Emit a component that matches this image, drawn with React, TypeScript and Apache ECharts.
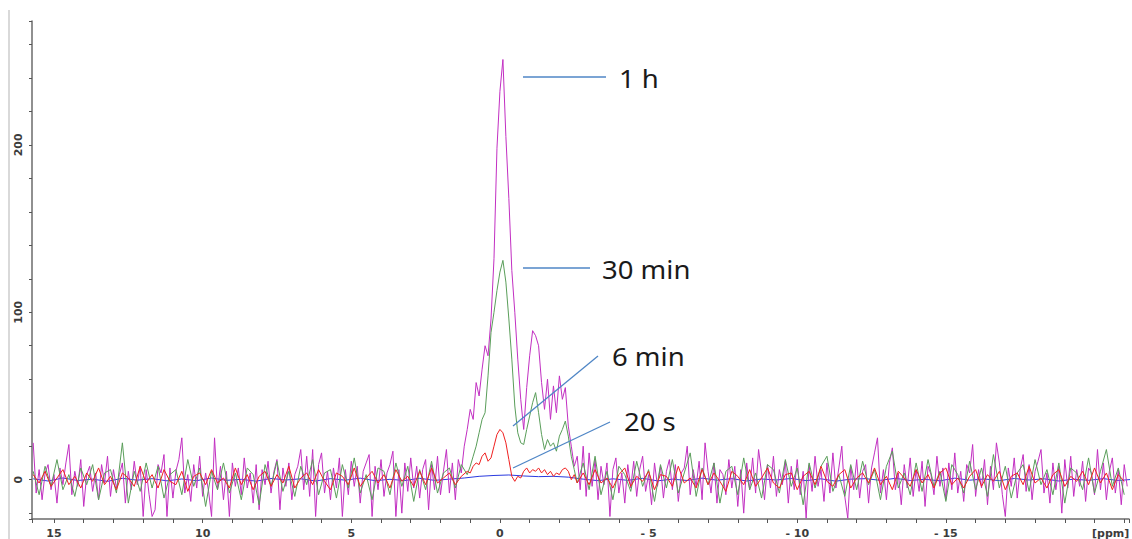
import React, { useEffect, useRef } from "react";
import * as echarts from "echarts";

// Axis ranges (ppm, intensity)
const X_MAX = 15.74;
const X_MIN = -21.16;
const Y_MIN = -23.5;
const Y_MAX = 274;

const xLabelValues = [15, 10, 5, 0, -5, -10, -15];
const yLabelValues = [0, 100, 200];

// ---- 1 h (magenta): 15.7 -> 1.2 ppm, step 0.1
const magentaLeft = [
  22, -8, 6, -12, 4, 9, -6, 3, -14, 7,
  -3, 10, 21, -9, 5, -4, 12, -16, 3, 8,
  -7, 4, -12, 9, -2, 14, -10, 6, -5, 3,
  10, -14, 5, -6, 11, -3, 8, -22, 6, -9,
  -22, -18, 9, 4, 15, -22, 7, -11, 5, 12,
  25, -8, 3, -13, 9, -5, 14, -10, 4, -7,
  -22, 25, -6, 8, -12, 5, -22, 10, -4, 7,
  -9, 13, -5, 4, -14, 9, -18, 6, -3, 11,
  -8, 5, 12, -18, 7, -4, 10, -12, 3, 8,
  18, -6, 14, -10, 18, -22, 9, 16, -8, 5,
  -12, 7, -5, 13, -22, 6, -9, 11, -4, 8,
  -14, 5, 10, 15, -22, 8, -6, 12, -10, 4,
  9, 17, -22, 6, -20, 10, -7, 13, -5, 8,
  -11, 6, 12, -18, 9, -6, 14, -9, 5, 18,
  -8, 10, -12, 12, 4, 20,
];
// 1.1 -> -2.5 ppm, step 0.1
const magentaPeak = [
  30, 42, 36, 58, 50, 66, 80, 74, 96, 132,
  198, 232, 251, 205, 168, 125, 100, 72, 48, 30,
  55, 74, 89, 86, 80, 58, 42, 60, 36, 56,
  40, 62, 48, 55, 32, 20, 8,
];
// -2.6 -> -21.1 ppm, step 0.1
const magentaRight = [
  14, -6, 20, -10, 16, -4, 12, -12, 8, -3,
  10, -22, 6, 13, -8, 4, -14, 9, -5, 11,
  -10, 6, 14, -7, 3, -15, 10, -4, 8, -11,
  5, 12, -6, 9, -13, 4, 7, 20, -9, 6,
  -4, 11, -12, 22, 5, -8, 10, -14, 6, 3,
  -9, 12, -5, 8, -16, 6, -20, 10, -6, 13,
  -8, 18, 4, -12, 9, -5, 14, -10, 6, -3,
  11, -14, 8, -6, 12, -9, 5, -23, 9, -7,
  14, -4, 6, -13, 10, -8, 16, -5, 7, 20,
  -10, -23, 8, -6, 12, -11, 5, 9, -14, 7,
  16, 25, -8, 6, -12, 10, 19, -6, 4, -15,
  9, -5, 13, -10, 6, -7, 11, -16, 8, 3,
  -9, 14, -4, 7, -12, 10, -6, 16, -8, 5,
  -13, 9, 4, 21, -10, 6, -5, 12, -15, 8,
  -6, 22, 10, -9, -22, 7, -4, 13, -11, 6,
  15, -7, 9, -12, 5, 11, 18, -8, 4, -14,
  10, -6, 8, -20, 12, -5, 14, -10, 6, -4,
  11, -13, 7, 4, -9, 18, -6, 10, -12, 5,
  13, -8, 6, -15, 9, -4,
];

// ---- 30 min (green): 15.7 -> 1.1 ppm, step 0.2
const greenLeft = [
  5, -9, 8, -4, 12, -6, 3, -10, 7, -3,
  9, -12, 4, 6, -8, 22, -14, 5, -7, 10,
  -5, 8, -11, 3, 6, -9, 12, -4, 7, -16,
  5, -6, 10, -8, 4, -12, 7, 3, -15, 9,
  -4, 11, -7, 5, -10, 8, -3, 12, -9, 4,
  6, -11, 9, -5, 13, -8, 3, -12, 7, 5,
  -9, 10, -4, 8, -13, 6, -6, 11, -8, 4,
  7, -5, 9, 3,
];
// 1.0 -> -2.6 ppm, step 0.1
const greenPeak = [
  8, 14, 20, 28, 36, 40, 62, 88, 100, 113,
  124, 131, 118, 96, 72, 44, 28, 22, 21, 30,
  38, 46, 52, 40, 27, 18, 24, 20, 22, 17,
  26, 30, 35, 26, 14, 6, -2,
];
// -2.8 -> -21.0 ppm, step 0.2
const greenRight = [
  10, -6, 14, -9, 5, -12, 8, 3, -7, 11,
  -4, 6, -13, 9, -5, 12, -8, 4, 16, -10,
  7, -3, 10, -14, 5, 8, -9, 13, -6, 4,
  -11, 9, 6, -8, 12, -4, 7, -15, 10, -5,
  8, 14, -7, 3, -10, 9, -6, 11, -3, 6,
  -12, 8, 17, -5, 4, -9, 10, -7, 12, -4,
  5, -13, 9, 3, -8, 11, -6, 7, -10, 15,
  -5, 8, -11, 4, 9, -7, 12, -3, 6, -9,
  10, -14, 7, 4, -6, 13, -8, 5, 18, -4,
  7, -9,
];

// ---- 6 min (red): 15.7 -> 1.1 ppm, step 0.2
const redLeft = [
  3, -2, 5, -4, 1, 6, -3, 2, -5, 4,
  -1, 7, -3, 2, -6, 4, 1, -4, 8, -2,
  3, -5, 6, -1, -3, 5, -7, 2, 4, -3,
  6, -2, 1, -5, 7, -3, 3, -6, 2, 5,
  -4, 3, -2, 8, -5, 1, 4, -3, 6, -1,
  -6, 4, 2, -3, 7, -4, 1, 5, -2, 3,
  -5, 6, -1, 2, -4, 5, -3, 7, -2, 1,
  4, -3, 2, 5,
];
// 1.0 -> -2.6 ppm, step 0.1
const redPeak = [
  4, 8, 10, 9, 14, 16, 11, 13, 20, 27,
  30, 28, 22, 12, 2, -1, 2, 1, 5, 7,
  4, 6, 5, 7, 4, 6, 3, 5, 2, 4,
  3, 6, 7, 5, 0, 3, -2,
];
// -2.8 -> -21.0 ppm, step 0.2
const redRight = [
  4, -3, 6, -2, 1, -5, 3, 7, -4, 2,
  -1, 5, -6, 3, 2, -4, 8, -2, 1, -5,
  6, -3, 4, -1, -7, 5, 2, -3, 6, -4,
  1, 7, -2, -5, 3, 4, -6, 2, 5, -3,
  8, -1, -4, 3, 6, -5, 1, 4, -2, 7,
  -3, 2, -6, 5, 1, -4, 6, -2, 3, -5,
  4, 7, -3, 1, -5, 2, 6, -4, 3, -1,
  5, -6, 2, 4, -3, 8, -2, 1, -5, 3,
  6, -4, 2, -1, 5, -3, 7, -2, 4, -6,
  3, -1,
];

// ---- 20 s (blue): 15.7 -> -21.3 ppm, step 0.5
const blueAll = [
  0.5, -0.8, 1, -0.5, 0.3, -1, 0.8, -0.3, 0.6, -0.7,
  0.4, -0.6, 1, -0.4, 0.2, -0.9, 0.7, -0.2, 0.5, -0.8,
  0.6, -0.3, 0.9, -0.6, 0.2, -0.5, 0.8, -0.4, 0.3, 1,
  2, 2.5, 2.8, 2.2, 1.8, 2, 1.5, 0.3, -0.6, 0.5,
  -0.4, 0.8, -0.7, 0.3, -0.5, 0.9, -0.3, 0.6, -0.8, 0.4,
  -0.2, 0.7, -0.6, 0.5, -0.9, 0.3, 0.6, -0.4, 0.8, -0.5,
  0.2, -0.7, 0.9, -0.3, 0.4, -0.6, 0.7, -0.2, 0.5, -0.8,
  0.3, -0.4, 0.6, -0.5, 0.2,
];

function toPoints(start: number, step: number, values: number[]) {
  return values.map((v, i) => [Number((start - i * step).toFixed(3)), v]);
}

const magentaData = [
  ...toPoints(15.7, 0.1, magentaLeft),
  ...toPoints(1.1, 0.1, magentaPeak),
  ...toPoints(-2.6, 0.1, magentaRight),
];
const greenData = [
  ...toPoints(15.7, 0.2, greenLeft),
  ...toPoints(1.0, 0.1, greenPeak),
  ...toPoints(-2.8, 0.2, greenRight),
];
const redData = [
  ...toPoints(15.7, 0.2, redLeft),
  ...toPoints(1.0, 0.1, redPeak),
  ...toPoints(-2.8, 0.2, redRight),
];
const blueData = toPoints(15.7, 0.5, blueAll);

const AXIS_FONT = "DejaVu Sans";
const NOTE_FONT = "Noto Sans";
const NOTE_COLOR = "#4f86c6";

function note(text: string, x: number, y: number) {
  return {
    type: "text",
    x,
    y,
    scaleX: 1.1,
    z: 100,
    style: {
      text,
      fontSize: 25,
      fontFamily: NOTE_FONT,
      fill: "#1a1a1a",
      align: "left",
      verticalAlign: "middle",
    },
  };
}
function noteLine(x1: number, y1: number, x2: number, y2: number) {
  return {
    type: "line",
    z: 100,
    shape: { x1, y1, x2, y2 },
    style: { stroke: NOTE_COLOR, lineWidth: 1.3 },
  };
}

export default function App() {
  const ref = useRef<HTMLDivElement>(null);
  useEffect(() => {
    document.body.style.margin = "0";
    if (!ref.current) return;
    const chart = echarts.init(ref.current, null, { renderer: "svg" });
    const line = (name: string, color: string, data: number[][]) => ({
      name,
      type: "line",
      data,
      showSymbol: false,
      symbol: "none",
      lineStyle: { color, width: 1 },
      itemStyle: { color },
      emphasis: { disabled: true },
    });
    chart.setOption({
      animation: false,
      backgroundColor: "#ffffff",
      grid: { left: 32, right: 0, top: 21, bottom: 19 },
      xAxis: {
        type: "value",
        inverse: true,
        min: X_MIN,
        max: X_MAX,
        minInterval: 1,
        maxInterval: 1,
        splitLine: { show: false },
        axisLine: { show: true, onZero: false, lineStyle: { color: "#6b6b6b", width: 1.5 } },
        axisTick: { show: true, length: 4, lineStyle: { color: "#555" } },
        axisLabel: {
          interval: 0,
          margin: 9,
          fontSize: 11,
          fontWeight: "bold",
          fontFamily: AXIS_FONT,
          color: "#3c3c3c",
          formatter: (v: number) => {
            const r = Math.round(v);
            if (Math.abs(v - r) > 1e-6 || !xLabelValues.includes(r)) return "";
            return r < 0 ? "- " + Math.abs(r) : String(r);
          },
        },
      },
      yAxis: {
        type: "value",
        min: Y_MIN,
        max: Y_MAX,
        minInterval: 20,
        maxInterval: 20,
        splitLine: { show: false },
        axisLine: { show: true, onZero: false, lineStyle: { color: "#6b6b6b", width: 1.5 } },
        axisTick: { show: true, length: 3, lineStyle: { color: "#555" } },
        axisLabel: {
          rotate: 90,
          margin: 8,
          fontSize: 11,
          fontWeight: "bold",
          fontFamily: AXIS_FONT,
          color: "#3c3c3c",
          formatter: (v: number) => {
            const r = Math.round(v);
            if (Math.abs(v - r) > 1e-6 || !yLabelValues.includes(r)) return "";
            return String(r);
          },
        },
      },
      series: [
        line("20 s", "#2a3adf", blueData),
        line("1 h", "#c22fc2", magentaData),
        line("30 min", "#5a9e5a", greenData),
        line("6 min", "#f02020", redData),
      ],
      graphic: [
        { type: "rect", z: 100, shape: { x: 8, y: 10, width: 2, height: 529 }, style: { fill: "#d9d9d9" } },
        noteLine(523, 77, 606, 77),
        note("1 h", 619, 78),
        noteLine(523, 268, 590, 268),
        note("30 min", 602, 269),
        noteLine(513, 426, 598, 356),
        note("6 min", 612, 356),
        noteLine(513, 468, 610, 422),
        note("20 s", 624, 421),
        {
          type: "text",
          x: 1092,
          y: 533,
          z: 100,
          style: {
            text: "[ppm]",
            fontSize: 11,
            fontWeight: "bold",
            fontFamily: AXIS_FONT,
            fill: "#3c3c3c",
            align: "left",
            verticalAlign: "middle",
          },
        },
      ],
    });
    return () => chart.dispose();
  }, []);
  return <div ref={ref} style={{ width: 1132, height: 539 }} />;
}
